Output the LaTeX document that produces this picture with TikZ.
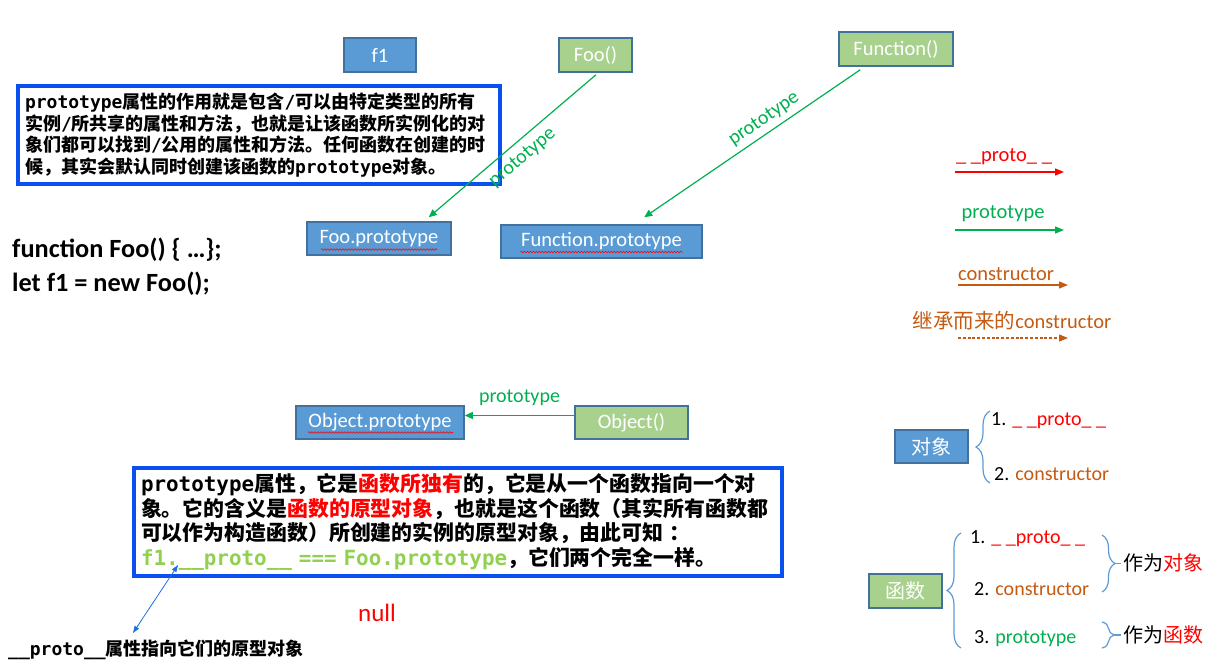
\documentclass[tikz,border=0pt]{standalone}
\usepackage{fontspec}
\setmainfont{Carlito}
\setmonofont{DejaVu Sans Mono}
\newfontfamily\cjk{Noto Sans CJK SC}
\usetikzlibrary{arrows.meta,decorations.pathreplacing,decorations.pathmorphing,calc}
\definecolor{bfill}{HTML}{5B9BD5}
\definecolor{gfill}{HTML}{A9D18E}
\definecolor{bedge}{HTML}{41719C}
\definecolor{nblue}{HTML}{0A50F0}
\definecolor{pgreen}{HTML}{00B050}
\definecolor{cor}{HTML}{C55A11}
\definecolor{lgreen}{HTML}{92D050}
\definecolor{brc}{HTML}{5B9BD5}
\definecolor{dblue}{HTML}{1A6FE8}
\newcommand\mn[1]{{\ttfamily\bfseries #1}}
\newcommand\rd[1]{\textcolor{red}{#1}}
\begin{document}
\begin{tikzpicture}[x=1pt,y=-1pt,
  bbox/.style={draw=bedge, line width=1.5pt, fill=bfill, text=white, font=\fontsize{20.5}{24}\selectfont, inner sep=0pt},
  gbox/.style={bbox, fill=gfill},
  note/.style={draw=nblue, line width=4pt, fill=white, anchor=north west, align=left, inner xsep=7pt, inner ysep=0pt},
  parrow/.style={draw=pgreen, line width=1.2pt, -{Triangle[length=8pt,width=7pt]}},
  plabel/.style={text=pgreen, font=\fontsize{20}{23}\selectfont, inner sep=1pt},
  larrow/.style={line width=1.3pt, -{Triangle[length=9pt,width=7pt]}},
  lglabel/.style={font=\fontsize{20.5}{24}\selectfont, inner sep=0pt},
  wavy/.style={draw=red, line width=0.6pt, decorate, decoration={snake, amplitude=0.8pt, segment length=3pt}},
  brc/.style={draw=brc, line width=1.2pt, decorate, decoration={brace, amplitude=14pt}},
  item/.style={anchor=west, font=\fontsize{20}{24}\selectfont, inner sep=0pt},
]
\useasboundingbox (0,0) rectangle (1218,666);

% boxes
\node[bbox, minimum width=72, minimum height=34] (f1) at (380,55) {f1};
\node[gbox, minimum width=73, minimum height=34] (foo) at (595.5,55) {Foo()};
\node[gbox, minimum width=114, minimum height=34] (func) at (896,49) {Function()};
\node[bbox, minimum width=144, minimum height=33] (fooproto) at (379,238.5) {Foo.prototype};
\node[bbox, minimum width=201, minimum height=33] (funcproto) at (601.5,241.5) {Function.prototype};
\node[bbox, minimum width=168, minimum height=33] (objproto) at (380,422.5) {Object.prototype};
\node[gbox, minimum width=113, minimum height=33] (obj) at (631.5,422.5) {Object()};
\node[bbox, minimum width=73, minimum height=33, font=\cjk\fontsize{20}{24}\selectfont] (dx) at (931.5,446.5) {对象};
\node[gbox, minimum width=73, minimum height=34, font=\cjk\fontsize{20}{24}\selectfont] (hs) at (905.5,591) {函数};

% spell-check underlines
\draw[wavy] ($(fooproto.center)+(-58,11)$) -- ($(fooproto.center)+(58,11)$);
\draw[wavy] ($(funcproto.center)+(-81,10.5)$) -- ($(funcproto.center)+(81,10.5)$);
\draw[wavy] ($(objproto.center)+(-72,10)$) -- ($(objproto.center)+(73,10)$);

% note 1
\node[note, text width=468, minimum height=98, font=\cjk\bfseries\fontsize{18}{21.5}\selectfont] (note1) at (16,84)
{\mn{prototype}属性的作用就是包含\mn{/}可以由特定类型的所有\\
实例\mn{/}所共享的属性和方法，也就是让该函数所实例化的对\\
象们都可以找到\mn{/}公用的属性和方法。任何函数在创建的时\\
候，其实会默认同时创建该函数的\mn{prototype}对象。};

% prototype arrows
\draw[parrow] ($(foo.south)+(0.5,2)$) -- node[plabel, sloped, below=6pt, pos=0.50] {prototype} ($(fooproto.north east)+(-23,-4)$);
\draw[parrow] ($(func.south west)+(22,3)$) -- node[plabel, sloped, above=4pt, pos=0.41] {prototype} ($(funcproto.north west)+(144,-7)$);
\draw[parrow] ($(obj.west)+(0,-7)$) -- node[plabel, above=8pt] {prototype} ($(objproto.east)+(0,-7)$);

% code
\node[anchor=base west, inner sep=0pt, font=\bfseries\fontsize{26.3}{30}\selectfont] (code1) at (12,257) {function Foo() \{ …\};};
\node[anchor=base west, inner sep=0pt, font=\bfseries\fontsize{26.3}{30}\selectfont] (code2) at (12,291) {let f1 = new Foo();};

% legend
\node[lglabel, text=red] (lg1) at (1004,157) {\_ \_proto\_ \_};
\coordinate (lg1a) at (955,172); \coordinate (lg1b) at (1064,172);
\draw[larrow, red] (lg1a) -- (lg1b);
\node[lglabel, text=pgreen] (lg2) at (1003,214) {prototype};
\coordinate (lg2a) at (955,230); \coordinate (lg2b) at (1064,230);
\draw[larrow, pgreen] (lg2a) -- (lg2b);
\node[lglabel, text=cor] (lg3) at (1006,274) {constructor};
\coordinate (lg3a) at (958,285); \coordinate (lg3b) at (1068,285);
\draw[larrow, cor] (lg3a) -- (lg3b);
\node[lglabel, text=cor] (lg4) at (1012,321) {{\cjk 继承而来的}constructor};
\coordinate (lg4a) at (958,338); \coordinate (lg4b) at (1068,338);
\draw[larrow, cor, dash pattern=on 3pt off 1.8pt] (lg4a) -- (lg4b);

% note 2
\node[note, text width=634, minimum height=108, font=\cjk\bfseries\fontsize{20.9}{24.5}\selectfont] (note2) at (132,466)
{\mn{prototype}属性，它是\rd{函数所独有}的，它是从一个函数指向一个对\\
象。它的含义是\rd{函数的原型对象}，也就是这个函数（其实所有函数都\\
可以作为构造函数）所创建的实例的原型对象，由此可知\hspace{6pt}：\\
\textcolor{lgreen}{\mn{f1.\_\_proto\_\_ === Foo.prototype}}，它们两个完全一样。};

% pointer to __proto__
\coordinate (pa) at (178,565);
\coordinate (pb) at (133,633);
\draw[dblue, line width=0.8pt, {Triangle[length=7pt,width=5pt]}-{Triangle[length=7pt,width=5pt]}] (pa) -- (pb);
\node[anchor=west, inner sep=0pt, font=\cjk\bfseries\fontsize{18}{22}\selectfont] (protolbl) at (8,650) {\mn{\_\_proto\_\_}属性指向它们的原型对象};

\node[text=red, font=\fontsize{25}{30}\selectfont, inner sep=0pt] (null) at (377,613) {null};

% object members
\draw[brc] (990,483) -- (990,411);
\node[item] (o1) at (991,421) {1. \rd{\_ \_proto\_ \_}};
\node[item] (o2) at (994,474) {2. \textcolor{cor}{constructor}};

% function members
\draw[brc] (961,648) -- (961,533);
\node[item] (h1) at (970,539) {1. \rd{\_ \_proto\_ \_}};
\node[item] (h2) at (974,589) {2. \textcolor{cor}{constructor}};
\node[item] (h3) at (974,639) {3. \textcolor{pgreen}{prototype}};

\draw[brc, decoration={brace, amplitude=13pt}] (1102,535) -- (1102,592);
\draw[draw=brc, line width=1.2pt] (1115,563.5) -- (1121,563.5);
\draw[brc, decoration={brace, amplitude=13pt}] (1102,622) -- (1102,648);
\draw[draw=brc, line width=1.2pt] (1115,635) -- (1121,635);
\node[item, font=\cjk\fontsize{20}{24}\selectfont] (as1) at (1123,563) {作为\rd{对象}};
\node[item, font=\cjk\fontsize{20}{24}\selectfont] (as2) at (1123,635) {作为\rd{函数}};
\end{tikzpicture}
\end{document}
